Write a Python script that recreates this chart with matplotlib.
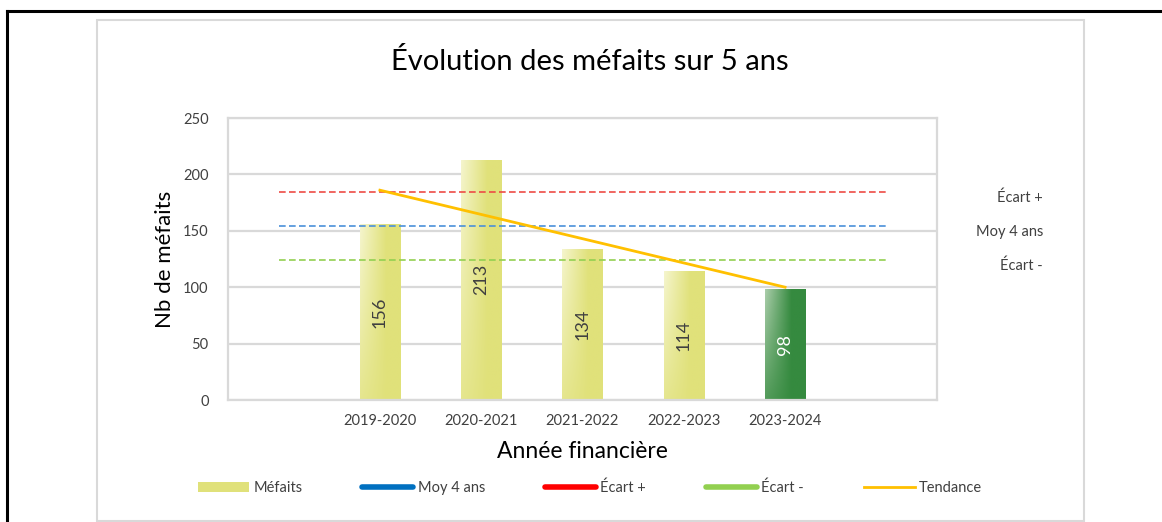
import matplotlib.pyplot as plt
import numpy as np
from matplotlib.patches import Rectangle, Patch
from matplotlib.lines import Line2D
from matplotlib.transforms import blended_transform_factory

plt.rcParams['font.family'] = ['Lato', 'DejaVu Sans']

# categories (empty slot on each side, as in the original chart)
annees = ['', '2019-2020', '2020-2021', '2021-2022', '2022-2023', '2023-2024', '']
mefaits = [156, 213, 134, 114, 98]
tendance = [186, 164.5, 143, 121.5, 100]
moy_4ans = 154.25
ecart_plus = 184.25
ecart_moins = 124.25

jaune = (224 / 255, 225 / 255, 122 / 255)
jaune_clair = (245 / 255, 245 / 255, 205 / 255)
vert = (53 / 255, 138 / 255, 63 / 255)
vert_clair = (170 / 255, 205 / 255, 170 / 255)

fig = plt.figure(figsize=(11.62, 5.22), dpi=100)
W, H = 1162, 522

# outer black border and inner grey chart box
fig.add_artist(Line2D([7 / W, 1], [1 - 11 / H, 1 - 11 / H], color='black', lw=2.2))
fig.add_artist(Line2D([7 / W, 7 / W], [0, 1 - 11 / H], color='black', lw=2.2))
fig.add_artist(Rectangle((97 / W, 1 / H), (1084 - 97) / W, (521 - 20) / H,
                         transform=fig.transFigure, fill=False,
                         edgecolor='#d9d9d9', lw=1.5))

ax = fig.add_axes([228 / W, 1 - 400 / H, (937 - 228) / W, (400 - 118) / H])
x = np.arange(len(annees))
ax.set_xlim(-0.5, len(annees) - 0.5)
ax.set_ylim(0, 250)
ax.set_yticks(range(0, 251, 50))
ax.set_xticks(x)
ax.set_xticklabels(annees)
ax.tick_params(length=0, labelsize=10.5, labelcolor='#404040', pad=10)
ax.tick_params(axis='y', pad=14)
ax.grid(axis='y', color='#d9d9d9', lw=1.6)
ax.set_axisbelow(True)
for s in ax.spines.values():
    s.set_color('#d9d9d9')
    s.set_linewidth(1.6)

# bars with a soft gradient
xb = x[1:6]
bars = ax.bar(xb, mefaits, width=0.4, color=jaune, zorder=2)
u = np.linspace(0, 1, 40)[None, :]
v = np.linspace(1, 0, 80)[:, None]
f = np.clip(1 - u / 0.65, 0, 1) * (0.25 + 0.75 * v)
for i, b in enumerate(bars):
    base, light = (vert, vert_clair) if i == 4 else (jaune, jaune_clair)
    img = np.array(base)[None, None, :] + f[:, :, None] * (np.array(light) - np.array(base))[None, None, :]
    im = ax.imshow(img, extent=[b.get_x(), b.get_x() + b.get_width(), 0, b.get_height()],
                   aspect='auto', zorder=2.1, interpolation='bilinear')
    im.set_clip_path(b)
    ax.text(b.get_x() + b.get_width() / 2, b.get_height() / 2, str(mefaits[i]),
            rotation=90, ha='center', va='center', fontsize=13,
            color='white' if i == 4 else '#404040', zorder=4)

# reference lines across all slots
ax.plot(x, [ecart_plus] * len(x), color='#EE4B45', lw=1.2, dashes=(4, 2), zorder=3)
ax.plot(x, [moy_4ans] * len(x), color='#4A90D9', lw=1.2, dashes=(4, 2), zorder=3)
ax.plot(x, [ecart_moins] * len(x), color='#92D050', lw=1.2, dashes=(4, 2), zorder=3)
ax.plot(xb, tendance, color='#FFC000', lw=2, zorder=3)

tr = blended_transform_factory(fig.transFigure, ax.transData)
for val, txt in [(ecart_plus, 'Écart +'), (moy_4ans, 'Moy 4 ans'), (ecart_moins, 'Écart -')]:
    ax.text(1043 / W, val - 5, txt, transform=tr, ha='right', va='center',
            fontsize=10.5, color='#404040')

fig.text(590 / W, 1 - 62 / H, 'Évolution des méfaits sur 5 ans', ha='center', va='center',
         fontsize=21, color='black')
ax.set_ylabel('Nb de méfaits', fontsize=16, labelpad=6)
fig.text(582 / W, 1 - 452 / H, 'Année financière', ha='center', va='center', fontsize=16.5)

handles = [Patch(facecolor=jaune, edgecolor='none'),
           Line2D([], [], color='#0070C0', lw=4, solid_capstyle='round'),
           Line2D([], [], color='#FF0000', lw=4, solid_capstyle='round'),
           Line2D([], [], color='#92D050', lw=4, solid_capstyle='round'),
           Line2D([], [], color='#FFC000', lw=2)]
labels = ['Méfaits', 'Moy 4 ans', 'Écart +', 'Écart -', 'Tendance']
leg = fig.legend(handles, labels, loc='center', bbox_to_anchor=(590 / W, 1 - 488 / H),
                 ncol=5, frameon=False, fontsize=10.5, handlelength=3.5,
                 handleheight=0.6, handletextpad=0.3, columnspacing=4.1)
for t in leg.get_texts():
    t.set_color('#404040')

fig.savefig('out.png', dpi=100)
